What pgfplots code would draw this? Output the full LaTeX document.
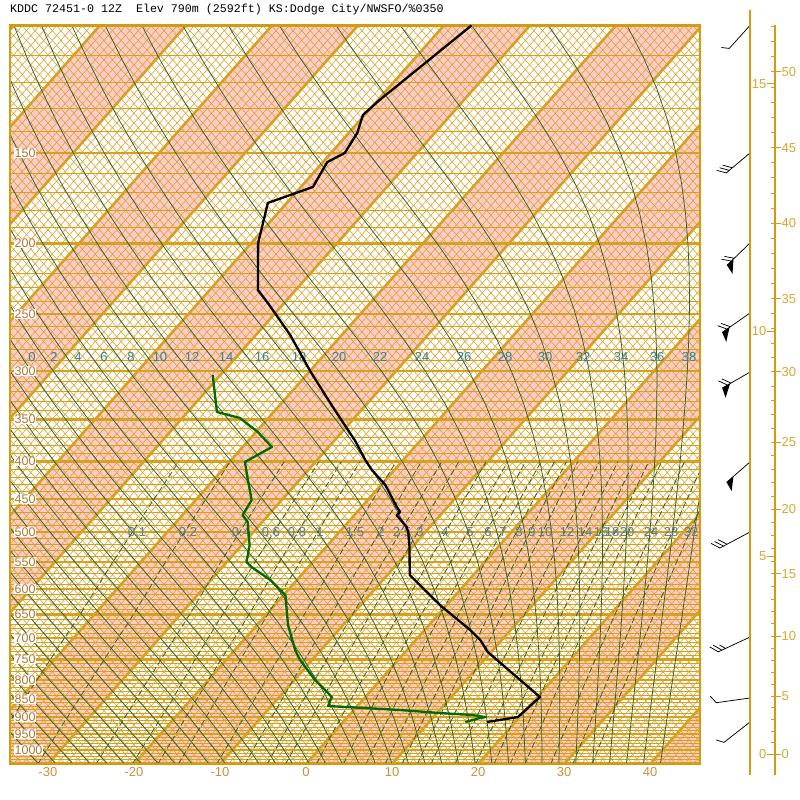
\documentclass[border=0pt]{standalone}
\usepackage{pgfplots}
\usepackage{pgfplotstable}
\pgfplotsset{compat=1.18}
\usepackage{fontspec}
\setmainfont{Liberation Sans}
\newfontfamily\monofont{Liberation Mono}

\definecolor{gridor}{RGB}{215,160,30}
\definecolor{frameor}{RGB}{210,155,20}
\definecolor{pinkband}{RGB}{255,204,204}
\definecolor{mgreen}{RGB}{40,100,50}
\definecolor{dgreen}{RGB}{0,105,0}
\definecolor{plab}{RGB}{175,120,45}
\definecolor{xlab}{RGB}{200,145,60}
\definecolor{slab}{RGB}{220,165,45}
\definecolor{tlab}{RGB}{55,130,145}
\definecolor{mlab}{RGB}{85,125,145}

% temperature sounding (hPa, degC)
\pgfplotstableread{
p T
914.9 16.7
900.5 19.8
845.0 20.3
732.4 9.6
705.0 7.5
683.0 5.3
630.8 -0.8
573.4 -7.4
524.6 -10.3
500.2 -12.0
492.3 -12.7
473.9 -15.1
469.4 -15.0
462.0 -15.9
430.8 -19.5
410.8 -22.6
397.9 -24.4
373.4 -27.7
339.5 -33.1
300.9 -39.8
267.5 -46.0
241.6 -51.9
231.8 -54.4
199.7 -59.2
175.8 -62.2
167.1 -58.6
154.4 -59.5
150.0 -58.4
140.8 -59.0
132.9 -60.2
126.8 -59.8
100.0 -56.8
}\tempdata

% dewpoint sounding (hPa, degC)
\pgfplotstableread{
p Td
914.9 14.2
903.3 15.5
900.5 16.0
894.7 14.3
889.1 10.3
880.6 5.4
869.5 -3.4
845.0 -3.9
826.4 -5.4
800.6 -7.6
751.3 -11.4
727.8 -13.0
672.2 -16.4
611.1 -19.8
582.6 -23.1
559.1 -26.6
550.3 -27.7
521.3 -29.1
484.6 -31.7
473.9 -33.0
451.8 -33.5
424.0 -36.0
400.4 -38.2
381.8 -36.6
364.0 -39.8
348.2 -43.3
341.6 -46.6
303.7 -50.9
}\dewdata

% moist adiabat lapse term dT/dlnp
\newcommand\gam[2]{%
  \pgfmathsetmacro\gTc{#1-273.15}%
  \pgfmathsetmacro\gex{max(17.67*\gTc/(\gTc+243.5),-9)}%
  \pgfmathsetmacro\ges{6.112*exp(\gex)}%
  \pgfmathsetmacro\grs{0.622*\ges/(#2-\ges)}%
  \pgfmathsetmacro\gG{(0.28586*#1+2488.6*\grs)/(1+\grs*(3672.4/#1)^2)}%
}
\newcommand\moist[1]{%
  \pgfmathsetmacro\mT{#1+273.15}%
  \gam{\mT}{1000}%
  \pgfmathsetmacro\mXb{\mT+0.0445*\gG-273.15}%
  \edef\mpath{(\mXb,-0.0445)}%
  \pgfmathsetmacro\mX{#1+1.4418}%
  \edef\mpath{\mpath -- (\mX,0)}%
  \pgfplotsforeachungrouped \k in {1,2,...,24}{%
    \pgfmathsetmacro\mpp{1000*exp(-0.1*(\k-1))}%
    \gam{\mT}{\mpp}%
    \pgfmathsetmacro\mTh{\mT-0.05*\gG}%
    \pgfmathsetmacro\mph{\mpp*0.951229}%
    \gam{\mTh}{\mph}%
    \pgfmathsetmacro\mT{\mT-0.1*\gG}%
    \pgfmathsetmacro\mX{\mT-273.15+1.4418+3.24*\k}%
    \pgfmathsetmacro\mL{0.1*\k}%
    \edef\mpath{\mpath -- (\mX,\mL)}%
  }%
  \edef\tmp{\noexpand\draw[mgreen, line width=0.75pt] \mpath;}\tmp
}
\newcommand\mixline[1]{%
  \def\mpath{}%
  \pgfplotsforeachungrouped \pp in {1045.5,950,850,750,650,550,450,400}{%
    \pgfmathsetmacro\es{#1*(\pp/(622+#1))}%
    \pgfmathsetmacro\yy{ln(\es/6.112)}%
    \pgfmathsetmacro\Tc{\yy<0 ? 272.62*\yy/(22.46-\yy) : 243.5*\yy/(17.67-\yy)}%
    \pgfmathsetmacro\LL{ln(1000/\pp)}%
    \pgfmathsetmacro\XX{\Tc+1.4418+32.4*\LL}%
    \ifx\mpath\empty \edef\mpath{(\XX,\LL)}\else \edef\mpath{\mpath -- (\XX,\LL)}\fi
  }%
  \edef\tmp{\noexpand\draw[mgreen, line width=0.8pt, dash pattern=on 6pt off 3pt] \mpath;}\tmp
}

\begin{document}
\begin{tikzpicture}[x=1pt,y=1pt]
\useasboundingbox (0,0) rectangle (800,800);

% ---------- skew-T background ----------
\begin{scope}
\clip (10,35.996) rectangle (700,774.62);
\fill[white] (0,0) rectangle (800,800);
\begin{scope}[x=8.6pt,y=314.7pt,shift={(306pt,50pt)}]
  \foreach \t in {-100,-80,...,40}{
    \fill[pinkband] (\t,-0.0445) -- ({\t+10},-0.0445) -- ({\t+86.05},2.302585) -- ({\t+76.05},2.302585) -- cycle;
  }
  \foreach \pp in {110,120,...,1040}{
    \draw[gridor,line width=0.7pt] (-35,{ln(1000/\pp)}) -- (46,{ln(1000/\pp)});
  }
  \foreach \t in {-110,...,46}{
    \draw[gridor,line width=0.55pt] (\t,-0.0445) -- ({\t+76.05},2.302585);
  }
  \foreach \c in {-35,...,122}{
    \draw[gridor,line width=0.55pt] (\c,-0.0445) -- ({\c-76.05},2.302585);
  }
  \foreach \pp in {150,200,...,1000}{
    \draw[gridor,line width=2.4pt] (-35,{ln(1000/\pp)}) -- (46,{ln(1000/\pp)});
  }
  \foreach \t in {-110,-100,...,40}{
    \draw[gridor,line width=2.6pt] (\t,-0.0445) -- ({\t+76.05},2.302585);
  }
  \foreach \w in {0.1,0.2,0.4,0.6,0.8,1,1.5,2,2.5,3,4,5,6,7,8,9,10,12,14,16,18,20,24,28,32}{
    \mixline{\w}
  }
  \foreach \th in {-34,-32,...,40}{
    \moist{\th}
  }
\end{scope}
\end{scope}

% moist adiabat labels
\foreach \lx/\lt in {32/0,54/2,78/4,104/6,131/8,160/10,192/12,226/14,262/16,299/18,339/20,380/22,422/24,464/26,505/28,545/30,583/32,621/34,657/36,689/38}{
  \node[text=tlab, font=\fontsize{13}{14}\selectfont, inner sep=0] at (\lx,443) {\lt};
}
% mixing ratio labels
\foreach \lx/\lt in {137/0.1,188/0.2,241/0.4,271/0.6,297/0.8,320/1,355/1.5,381/2,402/2.5,420/3,445/4,470/5,488/6,503/7,519/8,532/9,545/10,567/12,585/14,601/16,612/18,627/20,651/24,671/28,691/32}{
  \node[text=mlab, font=\fontsize{13}{14}\selectfont, inner sep=0] at (\lx,268) {\lt};
}

% ---------- axis with soundings ----------
\begin{axis}[
  at={(10pt,35.996pt)}, anchor=south west,
  width=690pt, height=738.62pt, scale only axis,
  xmin=-34.4186, xmax=45.8140,
  ymode=log, ymin=100, ymax=1045.5, y dir=reverse,
  axis line style={frameor, line width=2.8pt},
  xtick={-30,-20,-10,0,10,20,30,40},
  xticklabels={-30,-20,-10,0,10,20,30,40},
  xticklabel style={text=xlab, font=\fontsize{13}{14}\selectfont},
  ytick={150,200,250,300,350,400,450,500,550,600,650,700,750,800,850,900,950,1000},
  yticklabels={150,200,250,300,350,400,450,500,550,600,650,700,750,800,850,900,950,1000},
  yticklabel style={anchor=west, xshift=4pt, fill=white, inner sep=0.4pt, text=plab, font=\fontsize{12.5}{13}\selectfont},
  yminorticks=false, xminorticks=false,
  major tick length=0pt,
  clip=false,
]
\addplot[black, line width=2.3pt, line join=round] table[x expr={\thisrow{T}+1.4418+32.4*ln(1000/\thisrow{p})}, y=p] {\tempdata};
\addplot[dgreen, line width=2.3pt, line join=round] table[x expr={\thisrow{Td}+1.4418+32.4*ln(1000/\thisrow{p})}, y=p] {\dewdata};

% wind barbs (base on the staff line, tip pointing into the wind)
\draw[black, line width=0.75pt, shift={(axis cs:51.628,100)}, rotate=228] (0pt,0pt) -- (31pt,0pt) -- ++(-55:8pt);
\draw[black, line width=0.75pt, shift={(axis cs:51.628,150)}, rotate=220] (0pt,0pt) -- (31pt,0pt) -- ++(-55:10pt) (27pt,0pt) -- ++(-55:10pt) (23pt,0pt) -- ++(-55:10pt);
\draw[black, line width=0.75pt, shift={(axis cs:51.628,199.7)}, rotate=224] (0pt,0pt) -- (32pt,0pt) (26pt,0pt) -- ++(-55:10pt) (22pt,0pt) -- ++(-55:10pt);
\fill[black, shift={(axis cs:51.628,199.7)}, rotate=224] (32pt,0pt) -- (23pt,0pt) -- (34pt,10pt) -- cycle;
\draw[black, line width=0.75pt, shift={(axis cs:51.628,249.4)}, rotate=215] (0pt,0pt) -- (34pt,0pt) (28pt,0pt) -- ++(-55:10pt) (24pt,0pt) -- ++(-55:10pt);
\fill[black, shift={(axis cs:51.628,249.4)}, rotate=215] (34pt,0pt) -- (25pt,0pt) -- (36pt,10pt) -- cycle;
\draw[black, line width=0.75pt, shift={(axis cs:51.628,300.9)}, rotate=210] (0pt,0pt) -- (32pt,0pt) (26pt,0pt) -- ++(-55:10pt) (22pt,0pt) -- ++(-55:10pt);
\fill[black, shift={(axis cs:51.628,300.9)}, rotate=210] (32pt,0pt) -- (23pt,0pt) -- (34pt,10pt) -- cycle;
\draw[black, line width=0.75pt, shift={(axis cs:51.628,400.4)}, rotate=221] (0pt,0pt) -- (31pt,0pt);
\fill[black, shift={(axis cs:51.628,400.4)}, rotate=221] (31pt,0pt) -- (22pt,0pt) -- (33pt,10pt) -- cycle;
\draw[black, line width=0.75pt, shift={(axis cs:51.628,500.2)}, rotate=208] (0pt,0pt) -- (34pt,0pt) -- ++(-55:10pt) (30pt,0pt) -- ++(-55:10pt) (26pt,0pt) -- ++(-55:10pt);
\draw[black, line width=0.75pt, shift={(axis cs:51.628,698.4)}, rotate=205] (0pt,0pt) -- (35pt,0pt) -- ++(-55:10pt) (31pt,0pt) -- ++(-55:10pt) (27pt,0pt) -- ++(-55:7pt);
\draw[black, line width=0.75pt, shift={(axis cs:51.628,847.6)}, rotate=188] (0pt,0pt) -- (34pt,0pt) -- ++(-55:9pt);
\draw[black, line width=0.75pt, shift={(axis cs:51.628,914.9)}, rotate=218] (0pt,0pt) -- (33pt,0pt) -- ++(-55:8pt);
\end{axis}

% ---------- right panel: barb staff line and height scale ----------
\draw[frameor, line width=1.5pt] (750,790) -- (750,25);
\draw[frameor, line width=1.5pt] (775,775) -- (775,25);
\foreach \k in {0,1,...,53}{
  \pgfmathsetmacro\hh{304.8*\k}
  \pgfmathsetmacro\yy{50+314.7*(\hh<11000 ? (-0.013163-5.25588*ln(1-0.225577*\hh/10000)) : (1.48581+(\hh-11000)/6341.6))}
  \draw[frameor, line width=1pt] (771,\yy) -- (775,\yy);
}
\foreach \k in {0,5,...,50}{
  \pgfmathsetmacro\hh{304.8*\k}
  \pgfmathsetmacro\yy{50+314.7*(\hh<11000 ? (-0.013163-5.25588*ln(1-0.225577*\hh/10000)) : (1.48581+(\hh-11000)/6341.6))}
  \draw[frameor, line width=1pt] (775,\yy) -- (781,\yy);
  \node[anchor=west, text=slab, font=\fontsize{13}{14}\selectfont, inner sep=0] at (781.5,\yy) {\k};
}
\foreach \k in {0,5,10,15}{
  \pgfmathsetmacro\hh{1000*\k}
  \pgfmathsetmacro\yy{50+314.7*(\hh<11000 ? (-0.013163-5.25588*ln(1-0.225577*\hh/10000)) : (1.48581+(\hh-11000)/6341.6))}
  \draw[frameor, line width=1pt] (767,\yy) -- (775,\yy);
  \node[anchor=east, text=slab, font=\fontsize{13}{14}\selectfont, inner sep=0.5pt] at (767,\yy) {\k};
}

% ---------- title ----------
\node[anchor=west, inner sep=0, font=\monofont\fontsize{11.65}{13}\selectfont] at (10,791) {KDDC 72451-0 12Z\ \ Elev 790m (2592ft) KS:Dodge City/NWSFO/\%0350};
\end{tikzpicture}
\end{document}
